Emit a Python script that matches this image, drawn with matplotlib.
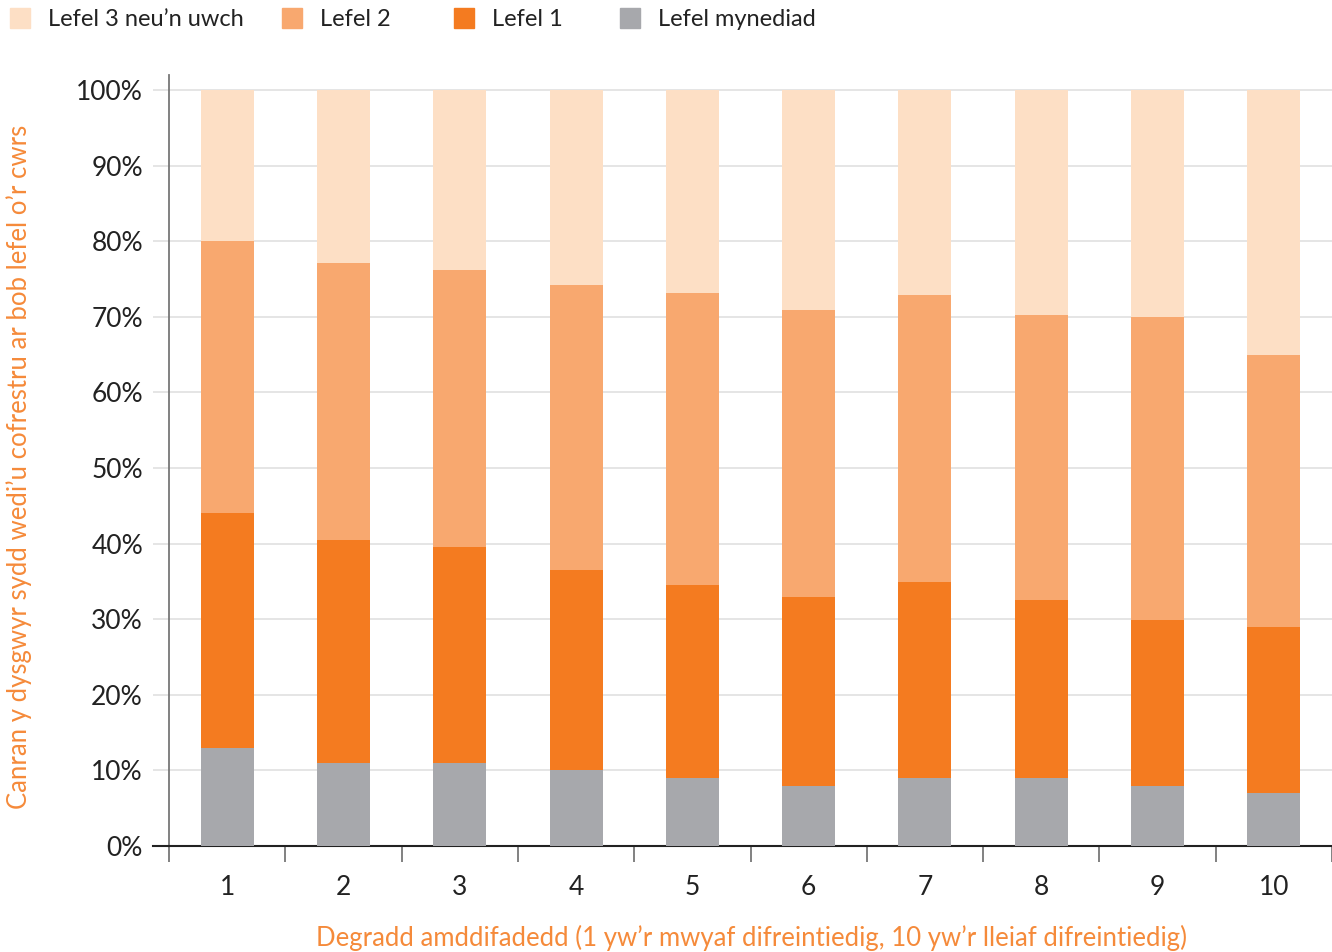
import numpy as np
import matplotlib
matplotlib.use("Agg")
import matplotlib.pyplot as plt
from matplotlib.patches import Rectangle

plt.rcParams['font.family'] = ['Lato', 'DejaVu Sans']

# data (percent of learners per level, by deprivation decile)
deciles = ['1', '2', '3', '4', '5', '6', '7', '8', '9', '10']
mynediad = [13, 11, 11, 10, 9, 8, 9, 9, 8, 7]
lefel1 = [31, 29.5, 28.6, 26.5, 25.5, 24.9, 25.9, 23.5, 21.9, 22]
lefel2 = [36, 36.6, 36.6, 37.7, 38.6, 38, 38, 37.7, 40.1, 35.9]
lefel3 = [20, 22.9, 23.8, 25.8, 26.9, 29.1, 27.1, 29.8, 30, 35.1]

series = [
    ('Lefel 3 neu\u2019n uwch', lefel3, '#FDDFC5'),
    ('Lefel 2', lefel2, '#F8A86F'),
    ('Lefel 1', lefel1, '#F47B20'),
    ('Lefel mynediad', mynediad, '#A7A8AC'),
]

PX = 72 / 100  # points per pixel

fig = plt.figure(figsize=(13.32, 9.52), dpi=100)
ax = fig.add_axes([169/1332, 106/952, 1 - 169/1332, (877 - 106)/952])

x = np.arange(1, len(deciles) + 1)
bottom = np.zeros(len(deciles))
for name, vals, col in reversed(series):
    ax.bar(x, vals, bottom=bottom, width=0.455, color=col, zorder=3)
    bottom += np.array(vals)

ax.set_ylim(0, 102)
ax.set_xlim(0.5, 0.5 + 1163/116.8)

yt = np.arange(0, 101, 10)
ax.set_yticks(yt)
ax.set_yticklabels(['{}%'.format(v) for v in yt])
for v in yt[1:]:
    ax.axhline(v, color='#E3E3E3', lw=1.3, zorder=1)
ax.tick_params(axis='y', length=16*PX, width=1.3, color='#E3E3E3', pad=10*PX,
               labelsize=19, labelcolor='#222222')

ax.set_xticks(x)
ax.set_xticklabels(deciles)
ax.set_xticks(np.arange(0.5, 10.6, 1), minor=True)
ax.tick_params(axis='x', which='major', length=0, pad=21, labelsize=19,
               labelcolor='#222222')
ax.tick_params(axis='x', which='minor', length=16*PX, width=1.3, color='#777777')

for s in ['top', 'right']:
    ax.spines[s].set_visible(False)
ax.spines['left'].set_color('#777777')
ax.spines['left'].set_linewidth(1.3)
ax.spines['bottom'].set_color('#222222')
ax.spines['bottom'].set_linewidth(1.5)
ax.plot([-16/1163, 0], [0, 0], transform=ax.get_yaxis_transform(), color='#222222',
        lw=1.5, clip_on=False)

orange = '#F58A3A'
fig.text(19/1332, 1 - 467/952,
         'Canran y dysgwyr sydd wedi\u2019u cofrestru ar bob lefel o\u2019r cwrs',
         rotation=90, ha='center', va='center', fontsize=18.5, color=orange)
fig.text(751/1332, 1 - 938/952,
         'Degradd amddifadedd (1 yw\u2019r mwyaf difreintiedig, 10 yw\u2019r lleiaf difreintiedig)',
         ha='center', va='center', fontsize=18.5, color=orange)

# legend
leg_x = [10, 282, 454, 620]
for (name, vals, col), lx in zip(series, leg_x):
    fig.patches.append(Rectangle((lx/1332, 1 - 28/952), 20/1332, 20/952,
                                 transform=fig.transFigure, color=col))
    fig.text((lx + 38)/1332, 1 - 19/952, name, ha='left', va='center',
             fontsize=17, color='#222222')

fig.savefig('out.png', dpi=100)
